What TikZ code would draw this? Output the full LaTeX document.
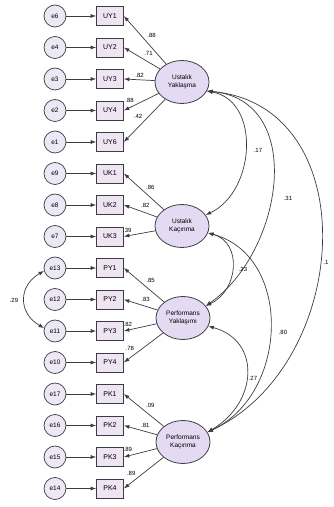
\documentclass[tikz,border=0pt]{standalone}
\usepackage{fontspec}
\setmainfont{Liberation Sans}
\usetikzlibrary{shapes.geometric,arrows.meta}

\definecolor{linegray}{RGB}{60,60,68}
\definecolor{errfill}{RGB}{236,232,246}
\definecolor{boxfill}{RGB}{238,228,242}
\definecolor{latfill}{RGB}{228,218,242}

\tikzset{
  errc/.style={circle,draw=linegray,line width=0.7pt,fill=errfill,minimum size=22pt,inner sep=0pt,font=\fontsize{6.5}{7}\selectfont},
  obs/.style={rectangle,draw=linegray,line width=0.7pt,fill=boxfill,minimum width=27pt,minimum height=19pt,inner sep=0pt,font=\fontsize{7}{8}\selectfont},
  lat/.style={ellipse,draw=linegray,line width=0.8pt,fill=latfill,minimum width=54pt,minimum height=43pt,inner sep=0pt,align=center,font=\fontsize{6.5}{7.5}\selectfont},
  arr/.style={draw=linegray,line width=0.7pt,-{Latex[length=5.5pt,width=4pt]}},
  cov/.style={draw=linegray,line width=0.7pt,{Latex[length=5.5pt,width=4pt]}-{Latex[length=5.5pt,width=4pt]}},
  lbl/.style={font=\fontsize{6}{7}\selectfont,inner sep=2pt}
}

\begin{document}
\begin{tikzpicture}[x=1pt,y=1pt]
\useasboundingbox (0,0) rectangle (333,507);

% latent factors
\node[lat] (ustyak) at (182,425) {Ustalık\\Yaklaşma};
\node[lat] (ustkac) at (182,281) {Ustalık\\Kaçınma};
\node[lat] (perfyak) at (183,189) {Performans\\Yaklaşımı};
\node[lat] (perfkac) at (183,65) {Performans\\Kaçınma};

% error terms and indicators
\foreach \err/\ind/\txt [count=\i from 0] in {e6/uy1/UY1,e4/uy2/UY2,e3/uy3/UY3,e2/uy4/UY4,e1/uy6/UY6,
    e9/uk1/UK1,e8/uk2/UK2,e7/uk3/UK3,
    e13/py1/PY1,e12/py2/PY2,e11/py3/PY3,e10/py4/PY4,
    e17/pk1/PK1,e16/pk2/PK2,e15/pk3/PK3,e14/pk4/PK4} {
  \node[errc] (\err) at (55,{491-31.5*\i}) {\err};
  \node[obs] (\ind) at (110,{491-31.5*\i}) {\txt};
  \draw[arr] (\err) -- (\ind);
}

% loadings
\foreach \lat/\ind/\val/\p in {ustyak/uy1/.88/0.5,ustyak/uy2/.71/0.5,ustyak/uy3/.82/0.7,ustyak/uy4/.88/0.65,ustyak/uy6/.42/0.5,
    ustkac/uk1/.86/0.5,ustkac/uk2/.82/0.55,ustkac/uk3/.39/0.68,
    perfyak/py1/.85/0.5,perfyak/py2/.83/0.55,perfyak/py3/.82/0.68,perfyak/py4/.78/0.68,
    perfkac/pk1/.09/0.5,perfkac/pk2/.81/0.55,perfkac/pk3/.89/0.68,perfkac/pk4/.89/0.65}
  \draw[arr] (\lat) -- node[lbl,pos=\p,auto,swap] {\val} (\ind.east);

% covariances
\draw[cov] (ustyak.-20) .. controls +(-10:55) and +(25:55) .. (ustkac.25);
\draw[cov] (ustyak.-20) .. controls +(-5:100) and +(35:95) .. (perfyak.28);
\draw[cov] (ustyak.-20) .. controls +(-5:160) and +(25:160) .. (perfkac.22);
\draw[cov] (ustkac.-15) .. controls +(-15:36) and +(25:36) .. (perfyak.28);
\draw[cov] (ustkac.-15) .. controls +(-15:88) and +(25:90) .. (perfkac.22);
\draw[cov] (perfyak.-18) .. controls +(-15:55) and +(30:58) .. (perfkac.22);
\draw[cov] (e13.195) .. controls +(-150:30) and +(150:30) .. (e11.165);

\node[lbl] (c17) at (258,357) {.17};
\node[lbl] (c31) at (288,309) {.31};
\node[lbl] (c11) at (326,245) {.1};
\node[lbl] (c23) at (243,238) {.23};
\node[lbl] (c80) at (283,175) {.80};
\node[lbl] (c27) at (253,129) {.27};
\node[lbl] (c29) at (14,207) {.29};
\end{tikzpicture}
\end{document}
